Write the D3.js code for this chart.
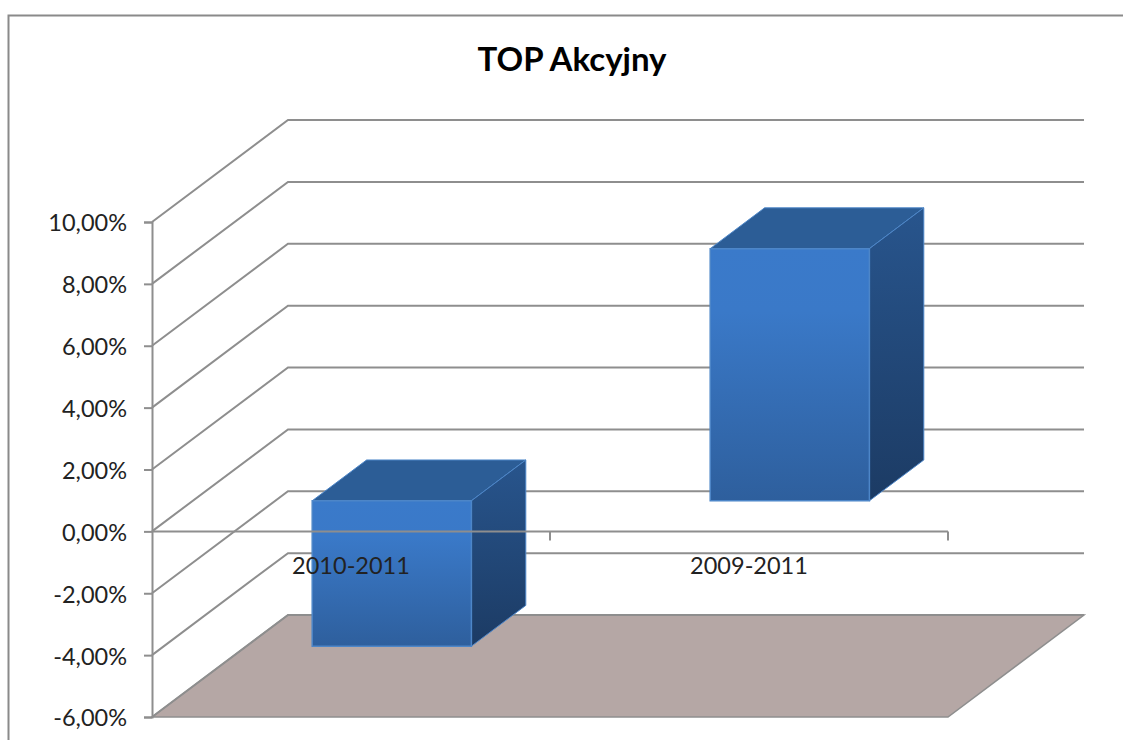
<!DOCTYPE html>
<html><head><meta charset="utf-8">
<script src="https://cdn.jsdelivr.net/npm/d3@7"></script>
<style>html,body{margin:0;background:#fff}svg{display:block}</style></head>
<body><svg id="c" width="1123" height="740"></svg>
<script>
const categories = ["2010-2011", "2009-2011"];
const values = [-4.7, 8.15];
const yTicks = [-6, -4, -2, 0, 2, 4, 6, 8, 10];
const title = "TOP Akcyjny";

const svg = d3.select("#c");
const font = "Lato,'Open Sans','Noto Sans',sans-serif";
const line = "#8e8e8e";
const y = d3.scaleLinear().domain([-6, 10]).range([717, 222]);
const x = d3.scaleBand().domain(categories).range([152, 948]).paddingInner(0).paddingOuter(0);
const depthX = d3.scaleLinear().domain([0, 1]).range([0, 136]);
const depthY = d3.scaleLinear().domain([0, 1]).range([0, -102]);
const pt = (px, v, d) => [px + depthX(d), y(v) + depthY(d)];
const poly = pts => "M" + pts.map(p => p.join(",")).join("L") + "Z";

const defs = svg.append("defs");
function grad(id, stops) {
  const g = defs.append("linearGradient").attr("id", id).attr("x1", 0).attr("y1", 0).attr("x2", 0).attr("y2", 1);
  stops.forEach(s => g.append("stop").attr("offset", s[0]).attr("stop-color", s[1]));
}
grad("front", [[0, "#3a7aca"], [0.25, "#3a79c8"], [1, "#2e5f9d"]]);
grad("side", [[0, "#28558d"], [1, "#1c3b64"]]);

// chart frame
svg.append("path").attr("d", "M8.5,740V15.5H1123").attr("fill", "none").attr("stroke", "#8a8a8a").attr("stroke-width", 2);

// floor
const [d0, d1] = y.domain();
const [xa, xb] = x.range();
svg.append("path").attr("d", poly([pt(xa, d0, 0), pt(xa, d0, 1), pt(xb, d0, 1), pt(xb, d0, 0)]))
  .attr("fill", "#b5a7a5").attr("stroke", line).attr("stroke-width", 1.5);

// walls
svg.append("g").selectAll("path").data(yTicks).join("path")
  .attr("d", v => d3.line()([pt(xa, v, 0), pt(xa, v, 1), pt(xb, v, 1)]))
  .attr("fill", "none").attr("stroke", line).attr("stroke-width", 2);

// value axis
const ya = svg.append("g").attr("transform", `translate(${xa},0)`)
  .call(d3.axisLeft(y).tickValues(yTicks).tickSize(8).tickPadding(17)
    .tickFormat(v => d3.format(".2f")(v).replace(".", ",").replace("−", "-") + "%"));
ya.selectAll("path,line").attr("stroke", line).attr("stroke-width", 2);
ya.selectAll("text").attr("font-family", font).attr("font-size", 23.5).attr("fill", "#222").attr("dy", "0.38em");

// bars
const barFrac = 0.4, d2 = 0.3, d3v = 0.7;
const bars = svg.append("g").selectAll("g").data(categories).join("g");
bars.each(function (c, i) {
  const v = values[i], g = d3.select(this);
  const bw = x.bandwidth() * barFrac;
  const l = x(c) + (x.bandwidth() - bw) / 2, r = l + bw;
  const hi = Math.max(v, 0), lo = Math.min(v, 0);
  const edge = "#4d86c8";
  g.append("path").attr("d", poly([pt(l, hi, d2), pt(l, hi, d3v), pt(r, hi, d3v), pt(r, hi, d2)]))
    .attr("fill", "#2c5d96").attr("stroke", edge).attr("stroke-width", 1);
  g.append("path").attr("d", poly([pt(r, hi, d2), pt(r, hi, d3v), pt(r, lo, d3v), pt(r, lo, d2)]))
    .attr("fill", "url(#side)").attr("stroke", edge).attr("stroke-width", 1);
  g.append("path").attr("d", poly([pt(l, hi, d2), pt(r, hi, d2), pt(r, lo, d2), pt(l, lo, d2)]))
    .attr("fill", "url(#front)").attr("stroke", edge).attr("stroke-width", 1.5);
});

// category axis
const xg = svg.append("g");
xg.append("line").attr("x1", xa).attr("x2", xb).attr("y1", y(0)).attr("y2", y(0))
  .attr("stroke", line).attr("stroke-width", 2);
xg.selectAll("line.t").data(categories).join("line").attr("class", "t")
  .attr("x1", c => x(c) + x.bandwidth()).attr("x2", c => x(c) + x.bandwidth())
  .attr("y1", y(0)).attr("y2", y(0) + 9).attr("stroke", line).attr("stroke-width", 2);
xg.selectAll("text").data(categories).join("text")
  .attr("x", c => x(c) + x.bandwidth() / 2).attr("y", y(0) + 43)
  .attr("text-anchor", "middle").attr("font-family", font).attr("font-size", 23.5).attr("fill", "#222")
  .text(c => c);

// title
svg.append("text").attr("x", 572).attr("y", 71).attr("text-anchor", "middle")
  .attr("font-family", font).attr("font-weight", 700).attr("font-size", 33).attr("fill", "#000").text(title);
</script></body></html>
